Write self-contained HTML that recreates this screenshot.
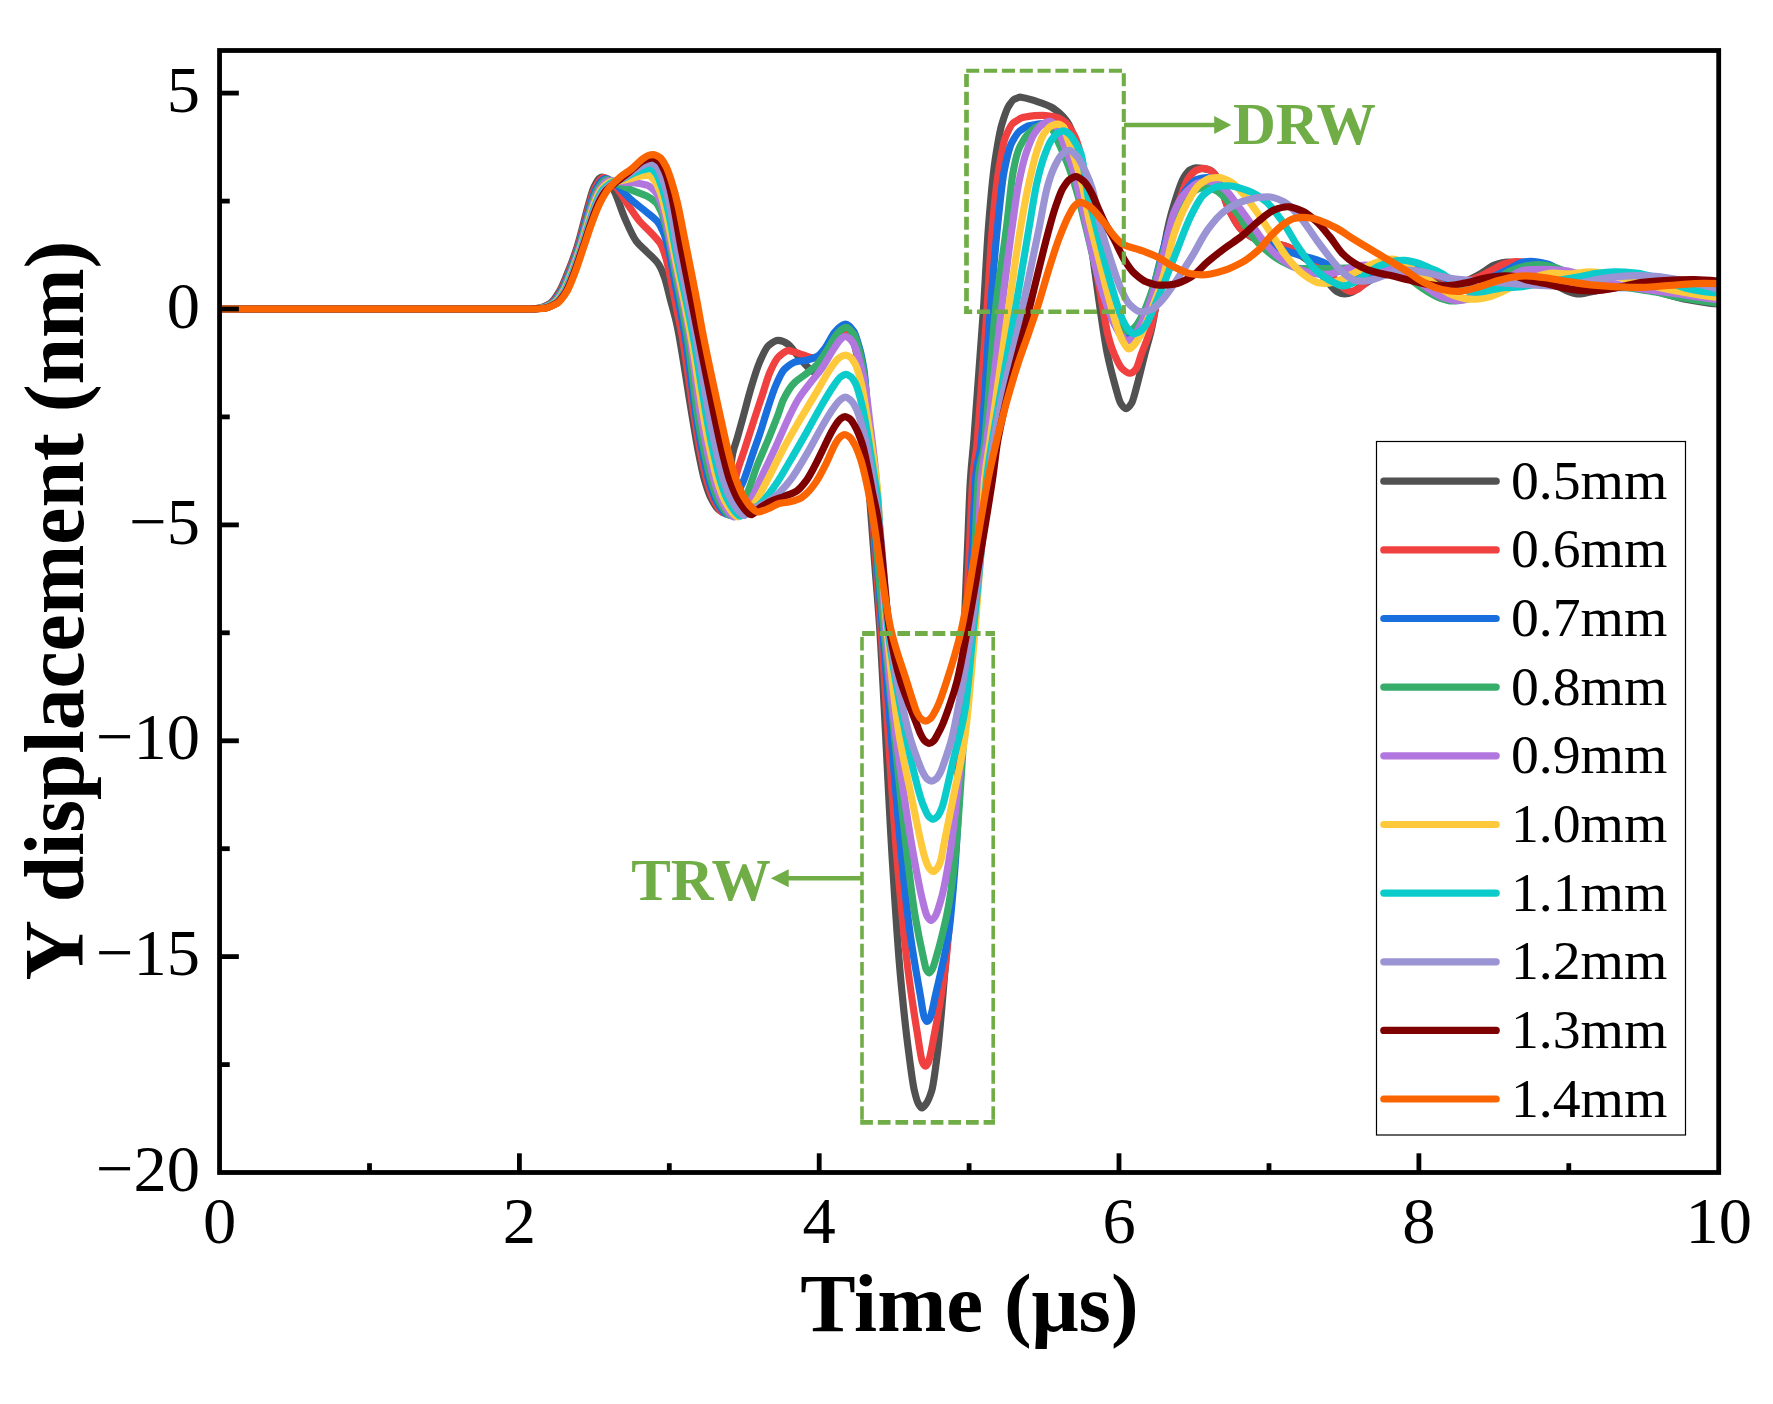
<!DOCTYPE html>
<html lang="en"><head><meta charset="utf-8"><title>Y displacement vs Time</title>
<style>
html,body{margin:0;padding:0;background:#fff;}
body{width:1773px;height:1404px;overflow:hidden;}
svg{display:block;}
text{font-family:"Liberation Serif","Times New Roman",serif;fill:#000;}
.tk{font-size:66.5px;}
.ttl{font-size:83px;font-weight:bold;}
.ttly{font-size:83.6px;font-weight:bold;}
.lg{font-size:55.7px;}
.an{font-size:59.3px;font-weight:bold;fill:#70AD47;}
.cv{fill:none;stroke-width:7.2;stroke-linejoin:round;stroke-linecap:butt;}
</style></head><body>
<svg width="1773" height="1404" viewBox="0 0 1773 1404">
<rect width="1773" height="1404" fill="#fff"/>
<defs><clipPath id="pc"><rect x="219.55" y="50.5" width="1499.15" height="1122.0"/></clipPath></defs>

<g clip-path="url(#pc)">
<path class="cv" stroke="#515151" d="M220.3,309.0C280.2,309.0 340.1,309.0 400.0,309.0C433.3,309.0 466.7,309.0 500.0,309.0C508.3,309.0 516.7,309.0 525.0,309.0C529.3,309.0 533.7,308.6 538.0,308.3C542.0,308.0 546.0,305.7 550.0,303.5C553.1,301.8 556.3,296.6 559.4,291.4C562.3,286.7 565.1,279.0 568.0,272.0C571.0,264.7 574.0,256.9 577.0,247.4C580.9,235.0 584.9,216.9 588.8,203.4C590.5,197.4 592.3,190.5 594.0,187.0C596.4,182.2 598.8,177.5 601.2,177.2C603.5,176.9 605.7,178.7 608.0,181.0C610.2,183.2 612.3,187.2 614.5,191.6C617.9,198.5 621.3,210.3 624.7,218.0C628.6,226.9 632.6,236.5 636.5,241.5C639.9,245.8 643.3,248.4 646.7,251.8C650.1,255.2 653.6,258.0 657.0,262.0C659.4,264.9 661.9,270.1 664.3,276.7C666.3,282.0 668.2,291.3 670.2,298.7C672.1,306.0 674.1,312.7 676.0,320.8C677.0,325.0 678.0,330.0 679.0,335.4C683.6,360.5 688.2,392.7 692.8,420.0C694.5,430.0 696.2,440.3 697.8,449.0C699.9,459.7 702.0,470.7 704.0,478.1C706.1,485.4 708.1,491.9 710.1,496.2C712.2,500.5 714.3,504.3 716.3,507.0C717.9,509.1 719.4,510.6 721.0,511.0C723.0,511.6 725.0,504.7 727.0,497.0C728.9,489.6 730.9,461.6 732.8,453.0C734.3,446.4 735.7,443.5 737.2,438.3C738.9,432.3 740.6,426.2 742.3,420.0C745.2,409.5 748.1,397.7 751.0,388.0C753.9,378.2 756.9,368.3 759.8,361.6C762.7,354.9 765.7,347.9 768.6,345.5C771.8,342.9 774.9,340.3 778.1,340.4C781.3,340.5 784.5,341.6 787.7,344.0C791.1,346.5 794.5,351.9 797.9,355.8C800.8,359.2 803.8,363.1 806.7,366.0C809.6,368.9 812.6,372.4 815.5,372.6C817.7,372.7 819.8,369.0 822.0,366.0C824.7,362.3 827.3,356.3 830.0,352.0C832.7,347.7 835.3,343.2 838.0,340.0C840.3,337.2 842.7,334.6 845.0,333.5C847.5,332.3 850.0,336.8 852.5,340.0C854.5,342.5 856.5,352.6 858.5,362.0C860.0,369.0 861.5,383.3 863.0,400.0C864.8,419.6 866.5,455.4 868.3,480.0C870.6,512.0 872.9,540.2 875.2,570.0C876.7,589.0 878.1,604.6 879.6,626.6C883.8,690.2 888.1,792.0 892.3,860.0C895.0,903.4 897.7,945.8 900.4,975.4C903.2,1005.7 905.9,1031.3 908.7,1052.3C910.6,1066.7 912.5,1082.7 914.4,1090.8C915.7,1096.4 917.0,1101.4 918.3,1103.5C919.6,1105.5 920.8,1108.1 922.1,1107.9C923.5,1107.7 924.9,1105.3 926.3,1103.5C928.1,1101.1 929.9,1096.6 931.7,1090.8C933.6,1084.6 935.6,1067.9 937.5,1052.3C938.8,1042.1 940.0,1027.7 941.3,1013.8C943.4,991.1 945.4,965.1 947.5,940.0C949.6,914.4 951.7,893.0 953.8,860.0C955.4,835.4 956.9,794.8 958.5,760.0C960.3,719.3 962.2,676.5 964.0,633.0C965.2,605.3 966.3,575.6 967.5,547.7C968.5,524.6 969.4,495.4 970.4,480.0C971.6,461.4 972.7,454.3 973.9,439.3C977.0,399.1 980.2,357.9 983.3,311.6C985.0,286.5 986.7,249.6 988.4,228.0C990.6,199.6 992.9,174.8 995.1,160.2C997.4,145.4 999.6,131.4 1001.9,124.1C1004.2,116.8 1006.4,109.5 1008.7,106.1C1010.6,103.3 1012.4,100.1 1014.3,99.3C1016.5,98.3 1018.8,96.9 1021.0,97.2C1024.4,97.7 1027.8,98.6 1031.2,99.6C1035.0,100.7 1038.7,102.0 1042.5,103.3C1045.5,104.4 1048.5,105.6 1051.5,107.2C1054.5,108.8 1057.5,111.4 1060.5,114.0C1062.8,115.9 1065.0,118.8 1067.3,121.9C1069.9,125.4 1072.4,132.3 1075.0,140.0C1077.3,147.0 1079.7,160.7 1082.0,175.0C1084.0,187.3 1086.0,204.9 1088.0,220.0C1090.1,236.1 1092.3,252.7 1094.4,268.4C1096.4,283.1 1098.4,297.8 1100.4,311.1C1102.7,326.4 1105.0,342.7 1107.3,353.8C1110.1,367.5 1113.0,378.1 1115.8,388.0C1117.4,393.5 1118.9,400.3 1120.5,403.0C1122.4,406.2 1124.2,408.7 1126.1,408.7C1128.0,408.7 1129.8,406.2 1131.7,403.0C1133.2,400.3 1134.8,393.6 1136.3,388.0C1139.2,377.6 1142.0,365.0 1144.9,353.8C1147.2,345.0 1149.4,338.4 1151.7,328.2C1154.6,315.3 1157.4,295.8 1160.3,276.9C1161.9,266.6 1163.4,250.5 1165.0,242.0C1167.9,226.1 1170.9,214.2 1173.8,205.0C1177.2,194.3 1180.6,182.6 1184.0,177.2C1186.0,174.0 1188.0,171.0 1190.0,170.0C1191.9,169.1 1193.9,167.9 1195.8,167.9C1198.4,168.0 1200.9,168.2 1203.5,168.6C1205.3,168.9 1207.2,169.3 1209.0,169.8C1210.8,170.3 1212.7,171.7 1214.5,173.8C1219.6,179.7 1224.6,201.4 1229.7,211.1C1233.6,218.6 1237.6,226.5 1241.5,229.7C1247.7,234.8 1253.8,238.9 1260.0,241.0C1269.6,244.3 1279.3,243.0 1288.9,247.4C1291.2,248.4 1293.4,250.4 1295.7,252.0C1301.1,255.8 1306.6,259.1 1312.0,264.0C1316.7,268.2 1321.3,274.9 1326.0,280.0C1329.7,284.0 1333.3,289.4 1337.0,291.5C1339.6,293.0 1342.1,294.0 1344.7,294.0C1347.1,294.0 1349.6,293.4 1352.0,292.3C1354.7,291.1 1357.3,288.7 1360.0,287.0C1363.3,284.8 1366.7,282.3 1370.0,280.5C1374.0,278.3 1378.0,276.1 1382.0,275.0C1388.0,273.3 1394.0,271.8 1400.0,271.5C1406.7,271.2 1413.3,272.1 1420.0,273.5C1426.7,274.9 1433.3,280.3 1440.0,282.0C1446.7,283.7 1453.3,284.2 1460.0,283.0C1466.3,281.8 1472.6,277.8 1478.9,274.6C1484.3,271.8 1489.6,267.0 1495.0,265.0C1499.3,263.3 1503.7,262.0 1508.0,262.0C1513.7,262.0 1519.3,263.8 1525.0,266.0C1531.7,268.6 1538.3,274.0 1545.0,278.0C1551.7,282.0 1558.3,287.3 1565.0,290.0C1570.1,292.1 1575.3,294.4 1580.4,293.9C1586.9,293.3 1593.5,291.0 1600.0,290.0C1608.3,288.8 1616.7,287.2 1625.0,287.0C1633.3,286.8 1641.7,288.5 1650.0,290.0C1661.3,292.1 1672.7,296.8 1684.0,299.0C1695.3,301.2 1706.5,303.2 1717.8,304.0"/>
<path class="cv" stroke="#F14040" d="M220.3,309.0C280.2,309.0 340.1,309.0 400.0,309.0C433.3,309.0 466.7,309.0 500.0,309.0C508.6,309.0 517.1,309.0 525.7,309.0C530.1,309.0 534.4,308.6 538.7,308.3C542.7,308.0 546.8,305.7 550.8,303.5C553.9,301.8 557.1,296.6 560.2,291.4C563.1,286.7 565.9,279.0 568.8,272.0C571.8,264.7 574.8,256.7 577.7,247.4C581.8,234.8 585.8,216.4 589.8,203.4C591.7,197.2 593.6,190.3 595.5,187.0C598.1,182.4 600.8,177.8 603.4,177.7C605.6,177.6 607.8,178.8 610.0,180.5C612.5,182.4 614.9,185.5 617.4,188.7C621.3,193.7 625.1,200.6 629.0,206.3C632.5,211.4 635.9,216.9 639.4,221.0C643.3,225.6 647.1,228.6 651.0,232.7C654.0,235.9 657.0,238.8 660.0,243.0C661.9,245.7 663.9,251.4 665.8,257.7C667.8,264.1 669.7,274.6 671.7,284.0C673.6,293.2 675.6,303.7 677.5,313.4C679.0,320.9 680.5,327.0 682.0,335.4C686.2,359.2 690.5,394.2 694.7,420.0C696.4,430.7 698.2,440.8 699.9,449.6C702.1,460.5 704.2,471.8 706.4,479.3C708.5,486.8 710.6,493.5 712.7,497.8C714.9,502.3 717.0,506.2 719.2,509.0C720.8,511.1 722.4,513.3 724.0,513.0C726.0,512.6 728.0,505.0 730.0,499.0C732.7,490.9 735.3,477.8 738.0,469.0C740.2,461.7 742.4,456.0 744.6,449.3C746.4,443.8 748.2,438.1 750.0,432.5C752.0,426.3 754.0,420.1 756.0,414.0C758.0,407.9 760.0,402.0 762.0,396.0C764.7,388.0 767.3,378.1 770.0,372.0C773.0,365.2 775.9,359.0 778.9,356.5C782.3,353.7 785.7,350.0 789.1,350.6C792.5,351.2 796.0,352.5 799.4,353.6C802.8,354.7 806.3,356.2 809.7,357.2C813.1,358.2 816.6,358.3 820.0,357.0C823.3,355.8 826.7,349.1 830.0,345.0C832.7,341.7 835.3,337.6 838.0,335.0C840.3,332.8 842.7,331.5 845.0,331.0C847.5,330.4 850.0,334.6 852.5,338.0C854.6,340.8 856.7,351.6 858.8,362.0C860.4,369.8 861.9,384.6 863.5,400.0C865.7,421.3 867.8,451.6 870.0,480.0C872.2,508.4 874.3,540.6 876.5,570.0C878.0,590.4 879.5,609.3 881.0,630.0C886.4,703.9 891.7,796.4 897.1,860.0C901.0,905.8 904.8,945.7 908.7,975.4C911.6,997.4 914.4,1015.5 917.3,1033.0C919.0,1043.4 920.7,1057.6 922.4,1062.0C923.4,1064.6 924.4,1066.3 925.4,1066.2C926.4,1066.1 927.4,1064.4 928.4,1062.0C930.5,1057.1 932.5,1043.5 934.6,1033.0C937.8,1016.7 941.0,998.5 944.2,975.4C947.6,951.1 950.9,908.7 954.3,860.0C956.0,834.9 957.8,795.1 959.5,760.0C961.5,719.5 963.5,675.5 965.5,633.0C966.8,604.7 968.2,576.0 969.5,547.7C970.6,525.0 971.6,494.9 972.7,480.0C974.3,458.0 975.8,457.7 977.4,439.3C980.5,402.4 983.7,356.5 986.8,311.6C988.6,285.3 990.5,249.3 992.3,228.0C994.4,204.0 996.4,184.0 998.5,171.5C1000.8,157.8 1003.0,143.2 1005.3,137.7C1007.9,131.3 1010.6,124.8 1013.2,123.0C1016.6,120.7 1019.9,118.0 1023.3,117.4C1027.1,116.7 1030.8,115.9 1034.6,115.7C1038.4,115.5 1042.1,115.4 1045.9,115.5C1049.7,115.6 1053.4,116.6 1057.2,117.4C1060.2,118.1 1063.2,120.5 1066.2,123.0C1068.5,124.9 1070.7,129.4 1073.0,133.2C1074.9,136.3 1076.7,140.5 1078.6,146.7C1080.4,152.6 1082.2,167.1 1084.0,180.0C1085.5,190.7 1087.0,205.7 1088.5,217.0C1090.7,233.3 1092.8,248.4 1095.0,262.0C1097.2,275.6 1099.3,287.9 1101.5,300.0C1103.7,312.1 1105.8,326.4 1108.0,335.0C1110.0,343.0 1112.1,349.3 1114.1,353.8C1116.7,359.6 1119.4,366.0 1122.0,368.5C1124.5,370.9 1127.0,372.9 1129.5,373.2C1131.7,373.5 1133.8,371.8 1136.0,369.0C1137.8,366.6 1139.7,358.8 1141.5,353.8C1144.6,345.2 1147.8,338.9 1150.9,328.2C1153.3,320.1 1155.6,306.4 1158.0,295.0C1160.5,283.1 1162.9,269.8 1165.4,258.4C1169.3,240.2 1173.3,220.4 1177.2,207.7C1181.2,194.8 1185.1,182.1 1189.1,177.2C1191.7,174.0 1194.4,170.9 1197.0,170.0C1199.2,169.2 1201.3,168.2 1203.5,168.3C1205.3,168.4 1207.2,169.2 1209.0,169.8C1210.8,170.4 1212.7,171.7 1214.5,173.8C1219.6,179.7 1224.6,201.4 1229.7,211.1C1233.6,218.6 1237.6,226.5 1241.5,229.7C1247.7,234.8 1253.8,238.9 1260.0,241.0C1269.6,244.2 1279.3,243.1 1288.9,247.4C1291.2,248.4 1293.4,250.4 1295.7,251.7C1302.1,255.5 1308.6,257.7 1315.0,262.0C1321.0,266.0 1327.0,272.0 1333.0,277.5C1336.3,280.6 1339.7,285.1 1343.0,287.5C1345.7,289.4 1348.4,291.2 1351.1,291.3C1353.4,291.4 1355.7,290.3 1358.0,289.0C1361.0,287.3 1364.0,283.5 1367.0,281.5C1371.0,278.9 1375.0,276.4 1379.0,275.0C1383.3,273.5 1387.7,271.9 1392.0,271.5C1401.3,270.5 1410.7,270.2 1420.0,271.5C1430.0,272.9 1440.0,278.3 1450.0,280.0C1456.7,281.2 1463.3,281.3 1470.0,280.0C1477.1,278.6 1484.2,273.9 1491.3,270.5C1495.4,268.5 1499.6,265.3 1503.7,264.0C1507.8,262.7 1512.0,261.6 1516.1,261.6C1520.7,261.5 1525.4,262.5 1530.0,264.0C1536.7,266.1 1543.3,271.2 1550.0,274.5C1558.3,278.6 1566.7,284.4 1575.0,286.0C1583.3,287.6 1591.7,288.6 1600.0,288.5C1610.0,288.3 1620.0,286.9 1630.0,287.0C1640.0,287.1 1650.0,288.5 1660.0,290.0C1670.0,291.5 1680.0,294.9 1690.0,297.0C1699.3,299.0 1708.5,300.9 1717.8,302.5"/>
<path class="cv" stroke="#1A6FDF" d="M220.3,309.0C280.2,309.0 340.1,309.0 400.0,309.0C433.3,309.0 466.7,309.0 500.0,309.0C508.8,309.0 517.6,309.0 526.4,309.0C530.8,309.0 535.1,308.6 539.4,308.3C543.5,308.0 547.5,305.7 551.6,303.5C554.7,301.8 557.9,296.6 561.1,291.4C563.9,286.8 566.8,279.0 569.6,272.0C572.6,264.7 575.5,256.6 578.5,247.4C582.6,234.6 586.7,215.8 590.8,203.4C592.9,197.2 594.9,190.8 597.0,187.5C599.7,183.3 602.3,178.6 605.0,178.5C607.0,178.4 609.0,179.2 611.0,180.5C613.1,181.9 615.3,184.0 617.4,186.0C622.3,190.5 627.1,196.1 632.0,200.4C636.9,204.7 641.8,208.2 646.7,212.2C650.1,215.0 653.6,217.5 657.0,221.0C659.0,223.0 660.9,227.0 662.9,231.2C664.8,235.3 666.8,242.3 668.7,250.3C671.1,260.4 673.6,275.7 676.0,288.5C679.0,304.1 681.9,317.4 684.9,335.4C688.8,358.8 692.6,395.9 696.5,420.0C698.3,431.4 700.1,441.1 702.0,449.9C704.2,460.8 706.4,472.3 708.7,480.0C710.9,487.5 713.1,494.3 715.3,498.7C717.5,503.1 719.7,507.1 722.0,509.9C723.6,512.0 725.3,515.0 727.0,514.0C729.0,512.8 731.0,505.0 733.0,501.0C736.3,494.4 739.5,490.1 742.8,482.5C746.3,474.3 749.9,462.2 753.4,452.0C755.8,445.0 758.3,438.4 760.7,431.0C762.7,425.0 764.6,418.0 766.6,412.0C769.7,402.5 772.8,392.1 775.9,385.1C778.8,378.4 781.8,371.6 784.7,369.0C788.6,365.6 792.6,362.5 796.5,361.6C799.9,360.9 803.3,361.0 806.7,360.2C810.1,359.4 813.6,358.2 817.0,356.5C819.9,355.0 822.9,350.9 825.8,347.0C828.7,343.1 831.7,335.7 834.6,332.3C838.0,328.3 841.5,325.1 844.9,324.3C847.8,323.6 850.8,327.6 853.7,331.3C855.5,333.6 857.4,341.1 859.2,347.0C860.8,352.0 862.3,359.4 863.9,369.0C865.3,377.4 866.6,398.7 868.0,420.0C869.0,435.6 870.0,463.8 871.0,480.0C873.2,515.1 875.3,542.6 877.5,570.0C879.2,591.1 880.8,610.1 882.5,630.0C889.0,707.1 895.4,793.9 901.9,860.0C904.8,889.7 907.7,916.9 910.6,936.9C913.8,959.0 917.0,976.2 920.2,994.6C921.6,1002.4 922.9,1013.8 924.3,1017.3C925.3,1019.9 926.3,1021.5 927.3,1021.3C928.3,1021.1 929.3,1019.7 930.3,1017.3C932.1,1013.1 933.8,1002.3 935.6,994.6C939.8,976.3 943.9,960.4 948.1,936.9C950.6,923.0 953.0,893.3 955.5,860.0C957.3,835.3 959.2,794.6 961.0,760.0C963.2,719.1 965.3,673.2 967.5,633.0C969.1,602.7 970.8,579.1 972.4,547.7C973.4,527.8 974.5,493.8 975.5,480.0C977.5,452.8 979.6,463.5 981.6,439.3C984.5,405.1 987.3,348.7 990.2,311.6C992.6,280.5 995.0,251.3 997.4,228.0C999.6,206.4 1001.9,182.6 1004.1,171.5C1006.7,158.4 1009.4,146.9 1012.0,142.2C1014.6,137.5 1017.3,132.7 1019.9,130.9C1022.9,128.8 1026.0,126.5 1029.0,125.8C1032.0,125.1 1035.0,124.6 1038.0,124.1C1041.0,123.6 1044.0,123.2 1047.0,123.0C1050.0,122.8 1053.0,124.5 1056.0,126.0C1058.3,127.2 1060.7,131.4 1063.0,135.0C1065.3,138.6 1067.7,143.9 1070.0,150.0C1072.7,157.0 1075.3,167.7 1078.0,178.0C1081.0,189.6 1084.0,203.1 1087.0,217.0C1090.0,230.9 1093.0,248.4 1096.0,262.0C1098.7,274.1 1101.3,285.9 1104.0,295.0C1106.8,304.7 1109.7,314.3 1112.5,320.0C1115.0,325.0 1117.5,329.7 1120.0,332.0C1122.3,334.2 1124.7,336.6 1127.0,336.8C1129.5,337.0 1132.0,334.6 1134.5,332.0C1137.0,329.4 1139.5,323.3 1142.0,318.0C1145.3,310.9 1148.7,302.4 1152.0,292.0C1155.7,280.6 1159.3,262.7 1163.0,250.0C1166.7,237.3 1170.3,224.2 1174.0,215.0C1178.0,205.0 1182.0,195.0 1186.0,190.0C1189.7,185.4 1193.3,180.8 1197.0,179.5C1200.6,178.3 1204.1,177.3 1207.7,177.6C1211.1,177.8 1214.6,179.4 1218.0,182.0C1222.7,185.5 1227.3,195.2 1232.0,202.0C1237.0,209.2 1242.0,217.7 1247.0,224.0C1252.0,230.3 1257.0,236.8 1262.0,240.0C1268.0,243.9 1274.0,246.9 1280.0,249.0C1286.3,251.2 1292.7,253.1 1299.0,255.0C1305.2,256.8 1311.5,257.9 1317.7,260.1C1323.5,262.1 1329.2,265.3 1335.0,268.0C1340.7,270.6 1346.3,274.3 1352.0,276.0C1357.3,277.6 1362.7,279.1 1368.0,278.5C1373.7,277.8 1379.3,275.9 1385.0,274.5C1391.7,272.9 1398.3,270.6 1405.0,269.5C1411.7,268.4 1418.3,268.7 1425.0,270.0C1431.7,271.3 1438.3,275.7 1445.0,278.0C1451.7,280.3 1458.3,283.4 1465.0,284.0C1471.7,284.6 1478.3,282.2 1485.0,280.0C1493.3,277.2 1501.6,272.4 1509.9,268.4C1514.0,266.4 1518.2,263.1 1522.3,262.2C1526.4,261.3 1530.6,261.3 1534.7,261.6C1538.8,261.9 1543.0,262.7 1547.1,264.0C1553.1,265.8 1559.0,270.1 1565.0,273.0C1573.3,277.0 1581.7,282.8 1590.0,284.5C1598.3,286.2 1606.7,287.1 1615.0,287.5C1625.0,288.0 1635.0,287.2 1645.0,288.0C1655.0,288.8 1665.0,291.2 1675.0,293.0C1689.3,295.6 1703.5,298.5 1717.8,301.5"/>
<path class="cv" stroke="#37AD6B" d="M220.3,309.0C280.2,309.0 340.1,309.0 400.0,309.0C433.3,309.0 466.7,309.0 500.0,309.0C509.1,309.0 518.1,309.0 527.2,309.0C531.5,309.0 535.8,308.6 540.2,308.3C544.2,308.0 548.3,305.7 552.3,303.5C555.5,301.8 558.7,296.6 561.9,291.4C564.8,286.8 567.6,279.1 570.4,272.0C573.3,264.6 576.3,256.4 579.2,247.4C583.5,234.3 587.7,215.6 592.0,203.4C594.2,197.2 596.3,191.0 598.5,188.0C601.3,184.0 604.2,179.1 607.0,179.5C609.0,179.8 611.0,180.6 613.0,181.5C615.4,182.6 617.9,183.9 620.3,185.0C624.2,186.8 628.1,188.5 632.0,190.2C636.9,192.3 641.8,193.8 646.7,196.0C649.6,197.3 652.6,199.4 655.5,201.9C657.5,203.6 659.4,207.8 661.4,212.2C663.4,216.6 665.3,224.5 667.3,232.7C670.2,244.8 673.1,261.7 676.0,276.7C679.7,295.7 683.3,312.8 687.0,335.4C690.8,358.7 694.5,396.8 698.3,420.0C700.2,431.8 702.2,441.4 704.1,450.4C706.4,461.4 708.8,473.1 711.2,480.9C713.5,488.5 715.8,495.4 718.2,499.8C720.5,504.4 722.9,508.4 725.3,511.3C727.0,513.4 728.8,516.2 730.6,515.4C732.7,514.5 734.9,506.0 737.0,503.0C740.0,498.8 743.0,500.7 746.0,495.6C749.7,489.4 753.3,475.2 757.0,466.0C760.7,456.8 764.3,449.0 768.0,440.0C771.4,431.6 774.9,423.1 778.3,414.0C780.0,409.6 781.6,403.2 783.3,399.8C787.2,391.9 791.1,385.7 795.0,382.2C798.9,378.7 802.8,376.5 806.7,373.4C810.1,370.6 813.6,368.2 817.0,364.6C820.4,361.0 823.9,355.2 827.3,349.9C830.2,345.4 833.2,338.9 836.1,335.2C839.0,331.5 842.0,328.6 844.9,327.6C847.8,326.6 850.8,330.5 853.7,334.0C855.7,336.4 857.6,345.0 859.6,352.0C861.2,357.8 862.9,366.8 864.5,378.0C866.0,388.3 867.5,409.2 869.0,430.0C870.0,443.8 871.0,464.9 872.0,480.0C874.2,512.7 876.3,543.9 878.5,570.0C880.3,592.1 882.2,611.3 884.0,630.0C891.9,710.6 899.8,793.3 907.7,860.0C910.3,881.7 912.8,902.7 915.4,917.7C918.0,932.7 920.5,944.6 923.1,956.2C924.1,960.9 925.2,967.1 926.2,969.3C927.2,971.4 928.2,973.1 929.2,972.9C930.2,972.7 931.2,971.1 932.2,969.3C933.6,966.7 935.1,961.0 936.5,956.2C939.7,945.4 943.0,932.2 946.2,917.7C949.1,904.8 951.9,886.5 954.8,860.0C959.9,813.2 964.9,713.6 970.0,633.0C971.7,606.5 973.3,578.4 975.0,547.7C976.1,527.4 977.2,493.2 978.3,480.0C980.5,453.2 982.8,462.1 985.0,439.3C988.4,404.3 991.9,343.4 995.3,311.6C999.0,277.3 1002.7,257.5 1006.4,228.0C1008.7,209.9 1010.9,183.6 1013.2,171.5C1015.4,159.6 1017.7,150.9 1019.9,146.7C1022.5,141.7 1025.2,136.9 1027.8,134.3C1030.4,131.7 1033.1,128.9 1035.7,127.5C1038.1,126.2 1040.6,125.1 1043.0,124.5C1045.3,123.9 1047.7,124.6 1050.0,126.0C1052.8,127.7 1055.5,136.3 1058.3,142.2C1061.7,149.4 1065.0,157.1 1068.4,165.9C1071.4,173.8 1074.5,183.5 1077.5,194.1C1080.3,204.0 1083.2,216.5 1086.0,228.0C1089.0,240.1 1092.0,253.9 1095.0,265.0C1098.0,276.1 1101.0,286.4 1104.0,295.0C1107.0,303.6 1110.0,312.9 1113.0,318.0C1115.7,322.6 1118.3,326.7 1121.0,328.5C1123.3,330.1 1125.5,331.7 1127.8,331.6C1130.2,331.5 1132.6,329.2 1135.0,327.0C1137.7,324.6 1140.3,319.3 1143.0,314.0C1146.3,307.4 1149.7,297.9 1153.0,288.0C1156.7,277.1 1160.3,261.1 1164.0,250.0C1168.0,237.9 1172.0,226.3 1176.0,218.0C1180.0,209.7 1184.0,201.1 1188.0,197.0C1191.7,193.2 1195.3,189.5 1199.0,188.5C1201.9,187.7 1204.8,187.0 1207.7,187.4C1210.5,187.8 1213.2,189.1 1216.0,190.5C1218.9,191.9 1221.7,194.7 1224.6,197.5C1229.1,201.9 1233.6,208.3 1238.1,214.5C1242.6,220.8 1247.2,229.8 1251.7,235.5C1256.2,241.1 1260.7,245.8 1265.2,249.5C1270.3,253.7 1275.3,257.9 1280.4,260.5C1287.2,263.9 1293.9,268.5 1300.7,268.6C1308.0,268.7 1315.4,268.8 1322.7,268.6C1330.1,268.4 1337.6,268.1 1345.0,268.0C1351.7,267.9 1358.3,268.0 1365.0,268.0C1371.8,268.0 1378.6,268.3 1385.4,268.6C1391.9,268.9 1398.5,272.7 1405.0,276.0C1411.4,279.3 1417.9,285.6 1424.3,289.5C1429.5,292.7 1434.8,296.1 1440.0,298.0C1444.0,299.4 1448.0,300.8 1452.0,301.0C1457.3,301.2 1462.7,299.8 1468.0,298.0C1475.3,295.5 1482.7,289.7 1490.0,285.0C1496.7,280.7 1503.3,273.9 1510.0,271.0C1516.2,268.3 1522.3,266.3 1528.5,265.5C1532.0,265.1 1535.4,264.6 1538.9,264.7C1543.2,264.8 1547.6,265.7 1551.9,266.7C1559.6,268.5 1567.3,272.4 1575.0,275.0C1583.3,277.8 1591.7,281.2 1600.0,283.0C1610.0,285.1 1620.0,286.4 1630.0,288.0C1638.5,289.4 1647.1,290.4 1655.6,292.0C1664.3,293.6 1672.9,296.2 1681.6,297.8C1693.7,300.0 1705.7,302.0 1717.8,303.2"/>
<path class="cv" stroke="#B177DE" d="M220.3,309.0C280.2,309.0 340.1,309.0 400.0,309.0C433.3,309.0 466.7,309.0 500.0,309.0C509.3,309.0 518.6,309.0 527.9,309.0C532.2,309.0 536.6,308.6 540.9,308.3C545.0,308.0 549.0,305.7 553.1,303.5C556.3,301.8 559.6,296.6 562.8,291.4C565.6,286.8 568.4,279.1 571.2,272.0C574.1,264.6 577.0,256.2 579.9,247.4C584.4,234.0 588.8,215.3 593.2,203.4C595.5,197.3 597.7,191.3 600.0,188.5C603.0,184.8 606.0,180.3 609.0,180.5C611.3,180.6 613.7,180.9 616.0,181.2C618.4,181.5 620.9,181.9 623.3,182.1C627.2,182.5 631.1,182.5 635.0,182.8C638.9,183.1 642.8,184.1 646.7,185.0C649.1,185.6 651.6,188.0 654.0,190.2C656.0,192.0 658.0,195.9 660.0,200.4C661.9,204.7 663.9,213.1 665.8,221.0C668.2,230.8 670.6,243.2 673.0,254.7C678.4,280.7 683.9,304.1 689.3,335.4C693.3,358.5 697.3,396.1 701.3,420.0C703.3,431.8 705.2,441.7 707.2,450.8C709.6,462.0 712.0,473.9 714.4,481.8C716.8,489.5 719.2,496.5 721.6,501.0C724.0,505.6 726.4,509.8 728.8,512.6C730.7,514.7 732.5,517.5 734.3,516.8C736.5,516.0 738.8,507.5 741.0,505.0C744.1,501.5 747.3,504.9 750.4,500.7C753.8,496.1 757.3,486.0 760.7,478.7C765.6,468.3 770.5,458.2 775.4,447.5C779.8,437.9 784.2,427.2 788.6,418.0C791.7,411.5 794.8,404.7 797.9,399.8C801.8,393.5 805.8,388.7 809.7,383.6C813.6,378.5 817.5,374.5 821.4,369.0C825.3,363.5 829.2,355.9 833.1,349.9C835.4,346.4 837.7,342.4 840.0,340.0C841.6,338.3 843.3,336.7 844.9,336.5C846.4,336.3 848.0,337.5 849.5,338.5C850.9,339.4 852.3,341.5 853.7,343.9C855.8,347.5 857.9,355.5 860.0,362.7C861.8,369.0 863.7,377.0 865.5,387.8C867.1,397.0 868.6,412.6 870.2,425.4C871.8,438.2 873.3,449.4 874.9,464.6C875.6,471.4 876.3,480.9 877.0,490.0C878.2,505.2 879.3,521.6 880.5,540.0C882.2,566.3 883.8,608.9 885.5,630.0C890.0,686.9 894.5,727.3 899.0,760.0C904.1,797.3 909.3,831.7 914.4,860.0C917.0,874.1 919.5,888.0 922.1,898.5C923.8,905.5 925.5,913.6 927.2,916.4C928.5,918.6 929.9,920.5 931.2,920.4C932.5,920.3 933.9,918.4 935.2,916.4C937.2,913.4 939.3,905.6 941.3,898.5C943.9,889.5 946.4,875.5 949.0,860.0C953.0,835.8 957.0,798.4 961.0,760.0C964.7,724.8 968.3,678.7 972.0,633.0C974.0,608.0 976.0,581.1 978.0,547.7C979.1,529.9 980.1,491.8 981.2,480.0C983.1,458.6 985.1,455.6 987.0,439.3C991.8,399.0 996.5,351.3 1001.3,311.6C1004.9,281.9 1008.4,253.6 1012.0,228.0C1014.3,211.7 1016.5,194.1 1018.8,182.8C1021.4,169.7 1024.1,158.4 1026.7,151.2C1029.3,144.0 1032.0,136.9 1034.6,133.2C1037.2,129.5 1039.9,125.7 1042.5,124.1C1044.8,122.7 1047.0,121.5 1049.3,121.3C1051.4,121.1 1053.4,122.8 1055.5,125.0C1057.6,127.2 1059.6,133.8 1061.7,138.8C1065.1,146.9 1068.4,155.4 1071.8,165.9C1075.2,176.5 1078.6,191.2 1082.0,205.4C1083.7,212.4 1085.3,220.3 1087.0,228.0C1088.6,235.6 1090.3,244.1 1091.9,251.3C1094.7,263.7 1097.6,276.1 1100.4,285.5C1104.4,298.8 1108.4,310.9 1112.4,319.7C1114.9,325.3 1117.5,331.0 1120.0,334.0C1122.6,337.1 1125.2,340.7 1127.8,340.7C1129.9,340.7 1131.9,338.3 1134.0,336.0C1135.9,333.9 1137.8,330.1 1139.7,326.5C1143.1,320.0 1146.6,311.8 1150.0,302.6C1153.4,293.4 1156.9,280.9 1160.3,268.4C1164.8,252.0 1169.3,224.0 1173.8,212.8C1177.8,202.9 1181.7,196.3 1185.7,192.5C1189.6,188.7 1193.6,184.4 1197.5,183.1C1202.0,181.7 1206.6,180.8 1211.1,181.5C1215.6,182.2 1220.1,185.4 1224.6,189.1C1229.1,192.8 1233.6,200.1 1238.1,206.0C1242.6,212.0 1247.2,218.4 1251.7,224.6C1256.2,230.8 1260.7,237.9 1265.2,243.2C1270.3,249.2 1275.3,254.7 1280.4,258.4C1286.1,262.5 1291.7,266.4 1297.4,268.6C1303.0,270.8 1308.7,273.1 1314.3,273.7C1319.9,274.3 1325.6,274.7 1331.2,273.7C1336.8,272.7 1342.5,270.0 1348.1,268.6C1353.7,267.2 1359.4,265.4 1365.0,265.2C1371.8,265.0 1378.6,267.1 1385.4,268.6C1393.8,270.5 1402.3,273.2 1410.7,277.1C1416.9,280.0 1423.1,285.6 1429.3,289.5C1433.4,292.1 1437.6,295.4 1441.7,296.9C1446.7,298.7 1451.6,300.3 1456.6,300.4C1461.7,300.5 1466.9,299.5 1472.0,298.0C1478.0,296.3 1484.0,292.4 1490.0,289.0C1496.7,285.3 1503.3,279.9 1510.0,276.5C1515.3,273.8 1520.7,270.3 1526.0,269.9C1532.5,269.4 1538.9,269.1 1545.4,269.3C1551.9,269.5 1558.4,269.8 1564.9,270.6C1573.3,271.6 1581.6,274.8 1590.0,277.0C1600.0,279.6 1610.0,282.8 1620.0,285.0C1628.3,286.8 1636.7,288.3 1645.0,289.5C1652.9,290.7 1660.7,291.5 1668.6,292.6C1685.0,294.9 1701.4,297.4 1717.8,300.0"/>
<path class="cv" stroke="#FEC93B" d="M220.3,309.0C280.2,309.0 340.1,309.0 400.0,309.0C433.3,309.0 466.7,309.0 500.0,309.0C509.5,309.0 519.1,309.0 528.6,309.0C532.9,309.0 537.3,308.6 541.6,308.3C545.7,308.0 549.8,305.7 553.9,303.5C557.1,301.8 560.4,296.7 563.6,291.4C566.4,286.9 569.2,279.1 572.0,272.0C574.9,264.6 577.8,256.0 580.7,247.4C585.3,233.6 589.9,215.2 594.5,203.4C596.8,197.4 599.2,191.5 601.5,189.0C604.7,185.6 607.8,181.9 611.0,181.5C613.7,181.2 616.3,181.5 619.0,181.0C621.9,180.5 624.8,179.9 627.7,179.2C631.6,178.3 635.5,177.1 639.4,176.2C642.3,175.5 645.3,175.4 648.2,175.5C650.1,175.5 652.1,177.9 654.0,179.9C656.0,181.9 658.0,186.7 660.0,191.6C661.9,196.3 663.9,204.1 665.8,212.2C668.7,224.3 671.6,240.4 674.5,254.7C679.9,281.4 685.4,305.4 690.8,335.4C695.3,360.1 699.7,394.8 704.2,420.0C706.2,431.4 708.2,441.6 710.2,450.8C712.7,462.1 715.2,473.9 717.7,481.8C720.1,489.5 722.6,496.5 725.0,501.0C727.5,505.6 729.9,509.8 732.4,512.6C734.3,514.7 736.1,517.4 738.0,516.8C740.3,516.0 742.7,508.0 745.0,506.0C747.8,503.6 750.6,507.2 753.4,504.4C758.3,499.5 763.1,487.8 768.0,478.7C772.9,469.6 777.8,459.1 782.7,450.0C787.6,440.9 792.5,432.4 797.4,424.0C803.4,413.7 809.5,404.0 815.5,393.9C820.4,385.7 825.3,376.2 830.2,369.0C833.1,364.7 836.1,360.0 839.0,358.0C841.1,356.5 843.2,355.3 845.3,355.2C846.9,355.1 848.4,356.1 850.0,357.0C851.5,357.8 853.0,360.3 854.5,362.7C856.6,366.1 858.7,373.3 860.8,381.5C862.9,389.6 864.9,403.7 867.0,416.0C869.1,428.5 871.2,442.4 873.3,456.7C874.7,466.3 876.1,474.9 877.5,490.0C878.5,500.8 879.5,524.9 880.5,540.0C882.7,572.7 884.8,607.5 887.0,630.0C891.3,675.1 895.7,715.0 900.0,740.0C903.6,760.8 907.2,776.0 910.8,793.4C914.5,811.4 918.3,831.1 922.0,846.8C923.1,851.3 924.1,855.6 925.2,858.7C926.5,862.6 927.9,866.7 929.2,868.3C930.5,869.9 931.9,871.5 933.2,871.5C934.5,871.5 935.9,869.8 937.2,868.3C938.5,866.8 939.9,863.4 941.2,858.7C941.9,856.1 942.7,850.6 943.4,846.8C947.0,828.4 950.5,811.4 954.1,793.4C957.6,775.9 961.0,762.5 964.5,740.0C968.0,717.3 971.5,670.9 975.0,630.0C977.0,606.6 979.0,579.4 981.0,547.7C982.2,529.2 983.3,491.8 984.5,480.0C986.4,460.8 988.3,452.9 990.2,439.3C996.2,396.7 1002.1,353.0 1008.1,311.6C1012.2,282.9 1016.4,252.6 1020.5,228.0C1023.3,211.1 1026.2,195.6 1029.0,182.8C1031.6,170.9 1034.3,159.2 1036.9,151.2C1039.1,144.4 1041.4,137.7 1043.6,134.3C1045.9,130.9 1048.1,127.6 1050.4,126.4C1052.7,125.2 1054.9,124.3 1057.2,124.1C1059.4,123.9 1061.7,125.1 1063.9,127.5C1065.0,128.7 1066.2,134.4 1067.3,137.7C1069.9,145.4 1072.6,152.1 1075.2,160.2C1077.8,168.3 1080.5,177.2 1083.1,188.4C1084.9,196.1 1086.7,208.9 1088.5,217.1C1091.3,229.9 1094.2,240.0 1097.0,251.3C1100.4,265.0 1103.9,279.4 1107.3,292.3C1110.7,305.1 1114.1,318.4 1117.5,328.2C1119.3,333.5 1121.2,338.3 1123.0,341.5C1124.9,344.7 1126.7,348.8 1128.6,348.9C1130.4,349.0 1132.2,346.9 1134.0,345.0C1135.9,343.0 1137.8,340.1 1139.7,336.8C1143.7,329.8 1147.7,319.4 1151.7,309.4C1155.7,299.4 1159.7,288.4 1163.7,275.2C1167.1,264.1 1170.4,244.9 1173.8,234.8C1178.3,221.3 1182.9,210.6 1187.4,202.6C1191.3,195.7 1195.3,187.9 1199.2,184.8C1203.2,181.7 1207.1,178.8 1211.1,178.1C1213.9,177.6 1216.7,177.3 1219.5,177.6C1223.5,178.1 1227.4,180.0 1231.4,182.3C1235.9,184.9 1240.4,190.5 1244.9,195.8C1249.4,201.1 1254.0,208.0 1258.5,214.5C1263.0,221.0 1267.5,228.0 1272.0,234.8C1276.5,241.6 1281.0,249.3 1285.5,255.1C1291.1,262.4 1296.8,269.6 1302.4,273.7C1308.1,277.8 1313.7,282.2 1319.4,283.0C1324.5,283.7 1329.5,283.6 1334.6,282.1C1340.1,280.4 1345.6,277.3 1351.1,274.6C1354.4,273.0 1357.7,271.2 1361.0,269.6C1365.1,267.5 1369.3,265.1 1373.4,263.5C1377.5,261.9 1381.7,260.6 1385.8,259.8C1388.7,259.2 1391.6,258.8 1394.5,259.2C1399.5,259.9 1404.4,264.1 1409.4,267.0C1415.2,270.4 1421.0,274.3 1426.8,278.3C1431.8,281.7 1436.7,285.9 1441.7,289.0C1445.8,291.6 1450.0,294.3 1454.1,295.7C1458.2,297.1 1462.4,298.5 1466.5,298.8C1470.6,299.1 1474.8,299.1 1478.9,298.8C1483.0,298.5 1487.2,297.5 1491.3,296.3C1497.5,294.4 1503.8,290.8 1510.0,288.0C1516.7,285.0 1523.3,281.4 1530.0,279.0C1537.3,276.4 1544.6,273.5 1551.9,273.2C1558.4,273.0 1564.8,274.1 1571.3,273.8C1577.8,273.5 1584.3,271.9 1590.8,271.9C1598.9,271.8 1606.9,274.2 1615.0,276.0C1625.0,278.2 1635.0,281.6 1645.0,284.0C1655.0,286.4 1665.1,288.9 1675.1,290.7C1689.3,293.3 1703.6,295.8 1717.8,297.4"/>
<path class="cv" stroke="#0CCBCB" d="M220.3,309.0C280.2,309.0 340.1,309.0 400.0,309.0C433.3,309.0 466.7,309.0 500.0,309.0C509.8,309.0 519.6,309.0 529.3,309.0C533.7,309.0 538.0,308.6 542.3,308.3C546.4,308.0 550.6,305.7 554.7,303.5C557.9,301.8 561.2,296.7 564.5,291.4C567.2,286.9 570.0,279.2 572.8,272.0C575.7,264.6 578.5,255.9 581.4,247.4C586.2,233.2 591.0,215.1 595.8,203.4C598.2,197.6 600.6,191.9 603.0,189.5C606.3,186.2 609.7,183.4 613.0,182.0C616.0,180.8 619.0,180.3 622.0,179.0C625.3,177.5 628.7,175.5 632.0,174.0C635.0,172.7 637.9,171.4 640.9,170.4C643.8,169.4 646.8,168.7 649.7,168.4C651.6,168.2 653.6,170.6 655.5,172.6C657.5,174.7 659.4,180.5 661.4,185.8C663.4,191.1 665.3,198.5 667.3,207.0C670.4,220.2 673.4,239.2 676.5,254.7C682.0,282.4 687.5,305.7 693.0,335.4C697.7,360.7 702.4,394.2 707.1,420.0C709.1,431.1 711.1,441.5 713.1,450.6C715.6,461.8 718.1,473.5 720.6,481.3C723.0,489.0 725.5,495.9 727.9,500.4C730.4,505.0 732.8,509.3 735.3,511.9C737.2,513.9 739.0,516.6 740.9,516.1C743.3,515.4 745.6,508.9 748.0,507.5C751.0,505.7 754.0,508.5 757.0,506.6C763.1,502.8 769.3,493.6 775.4,485.0C780.3,478.2 785.1,469.2 790.0,461.0C795.6,451.6 801.1,441.9 806.7,432.1C811.6,423.5 816.5,414.1 821.4,405.7C825.3,399.0 829.2,392.3 833.1,386.6C835.6,383.0 838.0,378.9 840.5,377.0C842.2,375.7 843.9,374.5 845.6,374.4C847.2,374.3 848.9,375.5 850.5,376.5C852.1,377.5 853.7,380.2 855.3,383.1C857.6,387.3 860.0,396.8 862.3,406.6C864.4,415.4 866.5,428.8 868.6,441.1C870.7,453.4 872.8,467.1 874.9,480.3C875.8,485.7 876.6,489.4 877.5,497.0C878.5,505.8 879.5,527.0 880.5,540.0C883.0,572.6 885.5,610.2 888.0,630.0C892.3,664.4 896.7,687.2 901.0,710.0C904.5,728.3 907.9,746.4 911.4,761.4C914.6,775.2 917.8,788.8 921.0,798.8C922.0,802.0 923.1,804.9 924.1,807.2C925.6,810.6 927.1,814.6 928.6,816.2C930.1,817.8 931.6,819.2 933.1,819.2C934.6,819.2 936.1,817.7 937.6,816.2C939.1,814.7 940.6,811.0 942.1,807.2C942.9,805.2 943.7,802.0 944.5,798.8C947.3,787.6 950.2,773.8 953.0,761.4C957.0,743.9 961.0,733.6 965.0,710.0C967.8,693.7 970.5,657.2 973.3,630.0C976.0,603.2 978.8,578.7 981.5,547.7C983.2,528.8 984.8,495.0 986.5,480.0C988.5,462.1 990.5,451.2 992.5,439.3C1000.0,394.5 1007.5,355.4 1015.0,311.6C1019.7,284.4 1024.3,255.3 1029.0,228.0C1031.6,212.6 1034.3,194.5 1036.9,182.8C1039.5,171.1 1042.2,161.4 1044.8,154.6C1047.0,148.8 1049.3,142.9 1051.5,139.9C1053.8,136.8 1056.0,133.8 1058.3,132.6C1060.2,131.6 1062.0,130.7 1063.9,130.9C1065.8,131.1 1067.7,132.7 1069.6,134.3C1071.5,135.9 1073.3,139.4 1075.2,142.2C1077.1,145.1 1079.0,147.9 1080.9,153.5C1083.5,161.1 1086.1,188.3 1088.7,199.7C1090.3,206.9 1092.0,210.8 1093.6,217.1C1096.4,228.0 1099.3,240.4 1102.1,251.3C1105.5,264.5 1109.0,277.5 1112.4,288.9C1115.8,300.2 1119.2,312.5 1122.6,319.7C1124.6,323.9 1126.5,327.4 1128.5,329.5C1130.3,331.3 1132.0,333.7 1133.8,333.8C1135.5,333.9 1137.3,332.9 1139.0,332.0C1141.0,330.9 1142.9,329.1 1144.9,326.5C1148.9,321.2 1152.9,310.0 1156.9,300.7C1162.5,287.5 1168.2,272.5 1173.8,258.4C1179.5,244.3 1185.1,227.6 1190.8,216.1C1195.3,207.0 1199.8,197.7 1204.3,194.1C1208.8,190.5 1213.3,187.1 1217.8,186.5C1222.3,185.9 1226.9,185.4 1231.4,186.0C1237.0,186.7 1242.7,188.8 1248.3,190.8C1253.9,192.8 1259.6,196.5 1265.2,200.9C1270.8,205.3 1276.5,213.4 1282.1,221.2C1287.8,229.0 1293.4,240.1 1299.1,248.3C1304.7,256.4 1310.4,265.2 1316.0,270.3C1321.6,275.4 1327.3,279.4 1332.9,282.1C1336.1,283.6 1339.2,285.6 1342.4,285.8C1346.5,286.0 1350.7,284.1 1354.8,282.0C1358.9,279.9 1363.1,276.0 1367.2,273.3C1371.3,270.6 1375.5,267.7 1379.6,265.9C1383.7,264.1 1387.9,262.4 1392.0,261.6C1396.1,260.8 1400.3,260.1 1404.4,260.3C1408.5,260.5 1412.7,261.6 1416.8,262.8C1421.0,264.0 1425.1,266.1 1429.3,267.8C1433.4,269.5 1437.6,271.1 1441.7,273.3C1447.1,276.2 1452.6,281.8 1458.0,285.0C1462.9,287.9 1467.8,291.6 1472.7,292.0C1476.8,292.3 1481.0,292.0 1485.1,291.3C1491.3,290.3 1497.5,288.3 1503.7,287.6C1509.0,287.0 1514.2,287.6 1519.5,287.0C1526.3,286.2 1533.2,284.7 1540.0,283.5C1546.7,282.3 1553.3,281.1 1560.0,280.0C1565.9,279.0 1571.9,278.2 1577.8,277.1C1584.3,275.9 1590.8,274.0 1597.3,273.2C1602.9,272.5 1608.5,272.0 1614.1,271.9C1621.5,271.8 1628.8,272.4 1636.2,273.2C1644.1,274.1 1652.1,276.7 1660.0,279.0C1669.4,281.7 1678.7,286.7 1688.1,288.7C1698.0,290.8 1707.9,292.5 1717.8,292.8"/>
<path class="cv" stroke="#9A93D4" d="M220.3,309.0C280.2,309.0 340.1,309.0 400.0,309.0C433.3,309.0 466.7,309.0 500.0,309.0C510.0,309.0 520.0,309.0 530.1,309.0C534.4,309.0 538.7,308.6 543.1,308.3C547.2,308.0 551.3,305.7 555.4,303.5C558.7,301.8 562.0,296.7 565.3,291.4C568.1,287.0 570.8,279.2 573.6,272.0C576.4,264.6 579.3,255.7 582.1,247.4C587.1,232.9 592.0,214.5 597.0,203.4C599.6,197.6 602.2,192.5 604.8,190.0C608.2,186.7 611.6,184.0 615.0,182.0C618.0,180.3 621.0,179.4 624.0,177.5C627.0,175.6 630.0,173.0 633.0,171.0C636.0,169.0 639.0,166.9 642.0,165.5C644.8,164.2 647.6,163.3 650.4,163.0C652.6,162.8 654.8,165.0 657.0,167.0C659.0,168.8 661.0,174.7 663.0,180.0C665.0,185.3 667.0,193.1 669.0,202.0C672.2,216.1 675.3,238.4 678.5,254.7C684.2,283.8 689.8,305.5 695.5,335.4C700.3,360.9 705.2,394.2 710.0,420.0C712.1,431.0 714.1,441.3 716.2,450.4C718.7,461.5 721.3,473.1 723.8,480.9C726.3,488.5 728.8,495.4 731.3,499.8C733.8,504.4 736.3,508.7 738.9,511.3C740.8,513.1 742.7,515.9 744.6,515.4C747.4,514.6 750.2,510.0 753.0,508.5C756.3,506.7 759.7,506.2 763.0,504.5C767.1,502.4 771.3,499.6 775.4,496.3C780.3,492.5 785.1,486.7 790.0,480.5C795.6,473.4 801.1,463.5 806.7,454.1C811.6,445.8 816.5,436.1 821.4,427.7C825.3,421.0 829.2,414.0 833.1,408.6C835.6,405.2 838.0,401.8 840.5,399.8C842.1,398.5 843.6,397.1 845.2,397.0C847.0,396.8 848.7,398.6 850.5,400.0C852.3,401.4 854.2,404.7 856.0,408.2C858.6,413.2 861.3,423.1 863.9,433.2C866.0,441.2 868.1,452.9 870.2,464.6C871.8,473.5 873.4,484.5 875.0,495.0C876.7,505.9 878.3,515.9 880.0,530.0C883.0,555.3 886.0,606.7 889.0,630.0C892.3,655.8 895.7,674.3 899.0,690.0C902.9,708.5 906.9,727.1 910.8,740.0C913.3,748.2 915.8,755.0 918.3,761.5C919.7,765.2 921.2,769.2 922.6,771.9C924.1,774.8 925.6,777.7 927.1,778.9C928.6,780.1 930.1,781.2 931.6,781.2C933.1,781.2 934.6,780.0 936.1,778.9C937.6,777.8 939.1,774.9 940.6,771.9C941.9,769.3 943.2,765.2 944.5,761.5C946.8,755.0 949.1,748.5 951.4,740.0C954.8,727.5 958.1,708.5 961.5,690.0C964.7,672.6 967.8,652.0 971.0,630.0C974.5,605.7 978.0,577.1 981.5,547.7C984.0,526.7 986.5,501.5 989.0,480.0C990.7,465.7 992.3,449.0 994.0,439.3C1003.3,385.4 1012.5,355.6 1021.8,311.6C1027.6,284.2 1033.3,256.3 1039.1,228.0C1041.7,215.1 1044.4,198.2 1047.0,188.4C1049.6,178.6 1052.3,171.1 1054.9,165.9C1057.2,161.4 1059.4,156.6 1061.7,154.6C1064.3,152.3 1067.0,150.0 1069.6,150.3C1072.2,150.6 1074.9,153.8 1077.5,156.9C1080.1,160.0 1082.8,166.1 1085.4,171.5C1087.6,176.1 1089.9,181.2 1092.1,188.4C1094.9,197.3 1097.6,215.1 1100.4,225.6C1103.8,238.6 1107.3,249.4 1110.7,259.8C1114.1,270.1 1117.5,281.4 1120.9,288.9C1123.8,295.2 1126.6,301.5 1129.5,304.3C1132.9,307.7 1136.3,311.1 1139.7,311.6C1143.7,312.1 1147.7,311.4 1151.7,309.4C1155.5,307.5 1159.2,303.2 1163.0,299.0C1167.3,294.1 1171.7,287.3 1176.0,281.0C1180.9,273.8 1185.9,266.3 1190.8,258.4C1196.4,249.4 1202.1,237.4 1207.7,229.7C1213.3,222.0 1219.0,215.0 1224.6,211.1C1230.2,207.2 1235.9,203.6 1241.5,201.8C1247.2,200.0 1252.8,198.3 1258.5,197.5C1262.4,197.0 1266.4,196.8 1270.3,197.0C1274.8,197.2 1279.3,199.5 1283.8,201.8C1289.4,204.7 1295.1,211.3 1300.7,217.8C1306.4,224.3 1312.0,233.9 1317.7,241.5C1323.3,249.1 1329.0,256.8 1334.6,263.5C1337.2,266.6 1339.8,269.8 1342.4,272.0C1346.5,275.5 1350.7,279.4 1354.8,280.3C1358.9,281.2 1363.1,281.6 1367.2,280.8C1371.3,280.0 1375.5,278.5 1379.6,277.1C1383.7,275.7 1387.9,273.8 1392.0,272.7C1396.1,271.6 1400.3,270.4 1404.4,270.2C1408.5,270.0 1412.7,270.4 1416.8,270.9C1421.0,271.4 1425.1,272.4 1429.3,273.3C1433.4,274.2 1437.6,275.6 1441.7,276.5C1445.8,277.4 1450.0,278.4 1454.1,278.9C1458.2,279.4 1462.4,279.9 1466.5,280.2C1474.8,280.9 1483.0,281.4 1491.3,282.0C1498.5,282.5 1505.8,283.1 1513.0,283.6C1519.5,284.1 1525.9,284.5 1532.4,284.9C1539.9,285.4 1547.5,285.9 1555.0,286.0C1563.3,286.1 1571.7,284.3 1580.0,283.0C1587.9,281.8 1595.9,279.5 1603.8,278.4C1612.4,277.2 1621.1,276.1 1629.7,275.8C1638.3,275.5 1647.0,275.8 1655.6,276.4C1665.4,277.1 1675.2,279.1 1685.0,281.0C1695.9,283.1 1706.9,286.0 1717.8,289.0"/>
<path class="cv" stroke="#7F0000" d="M220.3,309.0C280.2,309.0 340.1,309.0 400.0,309.0C433.3,309.0 466.7,309.0 500.0,309.0C510.3,309.0 520.5,309.0 530.8,309.0C535.1,309.0 539.4,308.6 543.8,308.3C547.9,308.0 552.1,305.6 556.2,303.5C559.5,301.8 562.8,296.7 566.2,291.4C568.9,287.0 571.7,279.2 574.4,272.0C577.2,264.6 580.0,255.5 582.9,247.4C588.0,232.5 593.2,214.4 598.4,203.4C601.1,197.6 603.9,192.7 606.6,190.0C610.1,186.6 613.5,184.2 617.0,181.5C619.7,179.4 622.3,177.6 625.0,175.5C627.7,173.4 630.3,171.0 633.0,168.8C636.0,166.3 639.0,163.3 642.0,161.5C645.3,159.6 648.7,158.3 652.0,158.0C654.3,157.8 656.5,159.7 658.8,161.2C660.9,162.6 662.9,167.4 665.0,172.0C667.0,176.4 669.0,184.3 671.0,193.0C674.5,208.2 678.0,231.7 681.5,250.0C687.1,279.3 692.7,307.2 698.3,335.4C703.9,363.8 709.6,393.0 715.2,420.0C717.4,430.5 719.6,441.1 721.8,450.1C724.4,461.2 727.1,472.7 729.8,480.4C732.5,488.0 735.1,494.7 737.8,499.2C740.5,503.7 743.1,508.0 745.8,510.5C747.9,512.4 749.9,515.2 751.9,514.6C754.8,513.7 757.8,509.2 760.7,507.3C764.5,504.8 768.2,502.3 772.0,500.7C776.0,499.0 780.0,498.0 784.0,496.5C788.0,495.0 792.0,493.6 796.0,491.5C799.3,489.7 802.7,485.4 806.0,481.0C809.0,477.1 812.0,471.1 815.0,465.5C817.1,461.5 819.3,456.9 821.4,452.6C825.3,444.8 829.2,435.6 833.1,429.1C835.6,425.0 838.0,420.8 840.5,418.9C842.0,417.7 843.5,416.6 845.0,416.6C846.7,416.6 848.3,417.8 850.0,419.0C851.5,420.1 853.0,422.9 854.5,425.4C857.1,429.8 859.7,436.1 862.3,444.2C864.4,450.8 866.5,462.3 868.6,472.4C870.1,479.5 871.5,487.6 873.0,495.0C874.7,503.4 876.3,508.9 878.0,519.4C881.8,543.6 885.7,606.4 889.5,630.0C893.2,653.0 897.0,669.6 900.7,681.4C903.2,689.4 905.8,696.0 908.3,702.7C911.1,710.1 913.9,716.9 916.7,724.1C917.9,727.1 919.0,730.8 920.2,733.3C921.7,736.5 923.2,739.5 924.7,740.8C926.2,742.1 927.7,743.3 929.2,743.3C930.7,743.3 932.2,742.2 933.7,740.8C935.2,739.4 936.7,736.0 938.2,733.3C939.7,730.6 941.2,727.6 942.7,724.1C945.3,718.1 947.9,710.3 950.5,702.7C952.7,696.4 954.8,689.9 957.0,681.4C960.4,668.0 963.9,648.5 967.3,630.0C972.0,604.6 976.8,576.0 981.5,547.7C985.1,526.0 988.8,504.2 992.4,480.0C994.3,467.6 996.1,449.1 998.0,439.3C1008.2,385.6 1018.4,353.2 1028.6,311.6C1035.5,283.4 1042.4,253.4 1049.3,228.0C1051.5,219.8 1053.8,211.8 1056.0,205.4C1058.3,198.9 1060.5,192.2 1062.8,188.4C1065.1,184.6 1067.3,180.9 1069.6,179.4C1071.8,177.9 1074.1,176.4 1076.3,176.6C1078.9,176.8 1081.6,179.3 1084.2,181.7C1086.8,184.1 1089.5,189.0 1092.1,194.1C1094.3,198.3 1096.5,204.6 1098.7,209.5C1100.6,213.8 1102.6,218.2 1104.5,222.0C1107.7,228.3 1110.9,233.2 1114.1,239.3C1117.5,245.8 1121.0,254.2 1124.4,259.8C1127.8,265.3 1131.2,270.5 1134.6,273.5C1138.6,277.1 1142.6,280.5 1146.6,282.0C1150.0,283.3 1153.5,284.7 1156.9,285.0C1162.5,285.5 1168.2,285.1 1173.8,284.2C1179.5,283.3 1185.1,280.5 1190.8,277.1C1196.4,273.7 1202.1,266.6 1207.7,261.8C1213.3,257.0 1219.0,252.5 1224.6,248.3C1230.2,244.1 1235.9,240.9 1241.5,236.4C1247.2,231.9 1252.8,225.8 1258.5,221.2C1263.6,217.1 1268.6,212.3 1273.7,210.2C1278.8,208.1 1283.8,206.5 1288.9,206.8C1293.4,207.0 1297.9,209.1 1302.4,211.1C1306.9,213.1 1311.5,217.1 1316.0,221.2C1320.5,225.2 1325.0,230.9 1329.5,236.4C1333.8,241.6 1338.1,249.2 1342.4,253.5C1346.5,257.7 1350.7,261.0 1354.8,263.4C1358.9,265.8 1363.1,268.1 1367.2,269.6C1371.3,271.1 1375.5,272.3 1379.6,273.3C1383.7,274.3 1387.9,274.9 1392.0,275.8C1396.1,276.7 1400.3,277.9 1404.4,278.9C1408.5,279.9 1412.7,281.1 1416.8,282.0C1421.0,282.9 1425.1,283.9 1429.3,284.5C1433.4,285.1 1437.6,285.7 1441.7,285.8C1445.8,285.9 1450.0,285.6 1454.1,285.1C1458.2,284.6 1462.4,283.6 1466.5,282.7C1470.6,281.8 1474.8,280.5 1478.9,279.6C1483.0,278.7 1487.2,277.7 1491.3,277.1C1495.4,276.5 1499.6,276.0 1503.7,275.8C1507.8,275.6 1512.0,275.9 1516.1,276.5C1519.4,277.0 1522.7,278.9 1526.0,279.7C1532.5,281.3 1538.9,282.2 1545.4,283.6C1551.9,285.0 1558.4,286.9 1564.9,288.1C1571.4,289.3 1577.8,290.4 1584.3,290.7C1590.8,291.0 1597.3,290.7 1603.8,290.0C1610.9,289.2 1617.9,287.4 1625.0,286.0C1630.9,284.8 1636.8,283.0 1642.7,282.3C1651.3,281.3 1660.0,280.6 1668.6,280.3C1677.3,280.0 1685.9,279.6 1694.6,279.7C1702.3,279.8 1710.1,280.4 1717.8,281.0"/>
<path class="cv" stroke="#FB6501" d="M220.3,309.0C280.2,309.0 340.1,309.0 400.0,309.0C433.3,309.0 466.7,309.0 500.0,309.0C510.5,309.0 521.0,309.0 531.5,309.0C535.8,309.0 540.2,308.6 544.5,308.3C548.7,308.0 552.8,305.6 557.0,303.5C560.3,301.8 563.7,296.7 567.0,291.4C569.7,287.0 572.5,279.2 575.2,272.0C578.0,264.6 580.8,255.7 583.6,247.4C586.1,240.1 588.5,232.1 591.0,225.4C593.9,217.4 596.9,209.2 599.8,203.4C602.7,197.6 605.7,192.2 608.6,188.7C612.5,184.1 616.4,180.2 620.3,177.0C624.2,173.8 628.1,171.8 632.0,168.6C635.0,166.1 637.9,162.6 640.9,160.3C643.3,158.4 645.8,156.4 648.2,155.5C649.9,154.9 651.6,154.6 653.3,154.6C655.5,154.6 657.8,156.2 660.0,157.6C661.9,158.8 663.9,162.5 665.8,166.0C667.8,169.6 669.7,175.8 671.7,181.8C673.6,187.7 675.6,195.1 677.5,203.4C680.0,214.0 682.4,227.7 684.9,240.0C687.3,252.1 689.8,264.3 692.2,276.7C693.7,284.3 695.2,292.0 696.7,300.0C698.9,311.5 701.0,324.4 703.2,335.4C709.2,365.6 715.1,392.7 721.1,420.0C723.3,430.1 725.5,440.5 727.7,449.3C730.4,460.1 733.1,471.2 735.8,478.7C738.5,486.1 741.1,492.7 743.8,497.0C746.5,501.4 749.2,505.7 751.9,508.0C753.9,509.8 756.0,512.2 758.0,512.0C761.3,511.7 764.7,510.2 768.0,508.8C771.7,507.2 775.3,504.6 779.0,503.5C782.7,502.4 786.3,502.6 790.0,501.8C793.3,501.1 796.7,500.0 800.0,498.5C802.7,497.3 805.3,494.6 808.0,492.0C810.7,489.4 813.3,485.9 816.0,482.0C819.3,477.2 822.5,470.7 825.8,464.3C829.2,457.6 832.7,447.8 836.1,442.3C837.7,439.7 839.4,437.4 841.0,436.3C842.3,435.4 843.7,434.6 845.0,434.6C846.5,434.6 848.0,435.9 849.5,437.0C851.2,438.3 852.8,441.3 854.5,444.2C856.6,447.8 858.7,453.6 860.8,459.9C862.9,466.1 864.9,475.5 867.0,485.0C869.1,494.7 871.2,506.8 873.3,519.4C875.9,534.8 878.4,553.9 881.0,570.0C884.3,591.0 887.7,616.1 891.0,630.0C896.2,651.8 901.5,664.7 906.7,681.4C909.0,688.6 911.2,696.0 913.5,702.8C914.6,706.0 915.6,709.8 916.7,712.0C918.2,715.0 919.7,717.7 921.2,718.8C922.7,719.9 924.2,721.1 925.7,721.1C927.2,721.1 928.7,720.0 930.2,718.8C931.7,717.6 933.2,714.6 934.7,712.0C936.2,709.5 937.6,706.3 939.1,702.8C941.6,696.8 944.1,689.1 946.6,681.4C951.5,666.4 956.4,651.3 961.3,630.0C966.2,608.7 971.1,575.4 976.0,547.7C980.0,525.3 983.9,499.9 987.9,480.0C990.9,464.8 994.0,452.0 997.0,439.3C998.4,433.3 999.9,427.7 1001.3,422.2C1003.6,413.4 1005.8,404.6 1008.1,396.6C1011.5,384.5 1015.0,372.9 1018.4,362.4C1021.8,352.0 1025.2,343.2 1028.6,333.3C1032.0,323.3 1035.5,313.4 1038.9,302.6C1042.3,291.9 1045.7,279.2 1049.1,268.4C1052.5,257.5 1056.0,246.6 1059.4,237.6C1062.8,228.6 1066.3,220.0 1069.7,213.7C1071.5,210.5 1073.2,207.1 1075.0,205.5C1076.6,204.0 1078.3,202.4 1079.9,202.4C1081.8,202.4 1083.6,203.1 1085.5,204.0C1087.6,205.0 1089.8,206.6 1091.9,208.5C1095.9,212.0 1099.8,217.3 1103.8,222.2C1107.2,226.4 1110.7,232.1 1114.1,235.9C1117.3,239.5 1120.6,243.3 1123.8,244.8C1129.2,247.3 1134.6,248.0 1140.0,250.0C1145.6,252.1 1151.3,254.1 1156.9,256.8C1162.5,259.5 1168.2,264.1 1173.8,266.9C1179.5,269.7 1185.1,272.7 1190.8,273.7C1196.4,274.7 1202.1,275.1 1207.7,274.5C1213.3,273.9 1219.0,272.0 1224.6,270.3C1230.2,268.6 1235.9,265.7 1241.5,262.7C1247.2,259.7 1252.8,255.1 1258.5,250.0C1263.0,245.9 1267.5,239.3 1272.0,234.8C1276.5,230.3 1281.0,225.8 1285.5,222.9C1288.3,221.1 1291.2,219.1 1294.0,218.5C1296.8,217.9 1299.6,217.3 1302.4,217.3C1305.3,217.3 1308.1,217.6 1311.0,218.0C1313.8,218.4 1316.6,219.4 1319.4,220.4C1325.0,222.3 1330.7,225.0 1336.3,228.0C1342.5,231.3 1348.6,236.1 1354.8,239.9C1363.1,245.0 1371.3,249.8 1379.6,254.7C1387.9,259.6 1396.1,264.4 1404.4,269.6C1410.6,273.5 1416.9,278.8 1423.1,282.0C1429.3,285.2 1435.5,288.3 1441.7,289.5C1447.9,290.7 1454.1,291.9 1460.3,291.3C1466.5,290.7 1472.7,288.8 1478.9,287.0C1485.1,285.2 1491.3,282.6 1497.5,280.8C1502.7,279.3 1507.8,277.7 1513.0,277.0C1517.3,276.4 1521.7,275.7 1526.0,275.8C1532.5,276.0 1538.9,276.8 1545.4,277.7C1551.9,278.6 1558.4,280.0 1564.9,281.0C1573.5,282.4 1582.2,284.0 1590.8,284.9C1599.4,285.8 1608.1,286.4 1616.7,286.8C1625.4,287.2 1634.0,287.7 1642.7,287.4C1651.3,287.1 1660.0,286.1 1668.6,285.5C1677.3,284.9 1685.9,284.0 1694.6,283.6C1702.3,283.3 1710.1,283.4 1717.8,283.6"/>
</g>
<g stroke="#000" stroke-width="4.8" fill="none">
<line x1="369.5" y1="1172.5" x2="369.5" y2="1163.2"/>
<line x1="519.4" y1="1172.5" x2="519.4" y2="1153.3"/>
<line x1="669.3" y1="1172.5" x2="669.3" y2="1163.2"/>
<line x1="819.2" y1="1172.5" x2="819.2" y2="1153.3"/>
<line x1="969.1" y1="1172.5" x2="969.1" y2="1163.2"/>
<line x1="1119.0" y1="1172.5" x2="1119.0" y2="1153.3"/>
<line x1="1269.0" y1="1172.5" x2="1269.0" y2="1163.2"/>
<line x1="1418.9" y1="1172.5" x2="1418.9" y2="1153.3"/>
<line x1="1568.8" y1="1172.5" x2="1568.8" y2="1163.2"/>
<line x1="219.55" y1="93.1" x2="238.85000000000002" y2="93.1"/>
<line x1="219.55" y1="201.1" x2="229.75" y2="201.1"/>
<line x1="219.55" y1="309.0" x2="238.85000000000002" y2="309.0"/>
<line x1="219.55" y1="416.9" x2="229.75" y2="416.9"/>
<line x1="219.55" y1="524.9" x2="238.85000000000002" y2="524.9"/>
<line x1="219.55" y1="632.8" x2="229.75" y2="632.8"/>
<line x1="219.55" y1="740.8" x2="238.85000000000002" y2="740.8"/>
<line x1="219.55" y1="848.7" x2="229.75" y2="848.7"/>
<line x1="219.55" y1="956.6" x2="238.85000000000002" y2="956.6"/>
<line x1="219.55" y1="1064.6" x2="229.75" y2="1064.6"/>
</g>
<rect x="219.55" y="50.5" width="1499.15" height="1122.0" fill="none" stroke="#000" stroke-width="4.8"/>
<text class="tk" x="219.6" y="1243" text-anchor="middle">0</text>
<text class="tk" x="519.4" y="1243" text-anchor="middle">2</text>
<text class="tk" x="819.2" y="1243" text-anchor="middle">4</text>
<text class="tk" x="1119.0" y="1243" text-anchor="middle">6</text>
<text class="tk" x="1418.9" y="1243" text-anchor="middle">8</text>
<text class="tk" x="1718.7" y="1243" text-anchor="middle">10</text>
<text class="tk" x="200" y="111.7" text-anchor="end">5</text>
<text class="tk" x="200" y="327.6" text-anchor="end">0</text>
<text class="tk" x="200" y="543.5" text-anchor="end">−5</text>
<text class="tk" x="200" y="759.4" text-anchor="end">−10</text>
<text class="tk" x="200" y="975.2" text-anchor="end">−15</text>
<text class="tk" x="200" y="1191.1" text-anchor="end">−20</text>
<text class="ttl" x="969.4" y="1331.4" text-anchor="middle">Time (μs)</text>
<text class="ttly" transform="translate(83.3,610.5) rotate(-90)" text-anchor="middle">Y displacement (nm)</text>
<g fill="none" stroke="#70AD47">
<path d="M966.2,70.8 H1122" stroke-width="3.9" stroke-dasharray="13.1 4.74"/>
<path d="M966.5,74 V313.9" stroke-width="4.7" stroke-dasharray="13.1 4.74"/>
<path d="M1123.8,73.2 V313.9" stroke-width="4.1" stroke-dasharray="13.1 4.74"/>
<path d="M964.2,311.8 H1125.8" stroke-width="4.4" stroke-dasharray="13.1 4.74" stroke-dashoffset="5.1"/>
<path d="M862.1,633.5 H995 M860.2,1122.4 H995" stroke-width="4.9" stroke-dasharray="12.7 4.93"/>
<path d="M862,637 V1120 M993.2,637 V1120" stroke-width="3.6" stroke-dasharray="13.55 4.5"/>
<path d="M1124,125 H1216 M862,878.3 H787" stroke-width="4.5"/>
</g>
<path d="M1231.3,125 L1214.2,116.1 V133.9 Z M770.9,878.3 L788.7,869.3 V887.3 Z" fill="#70AD47"/>
<text class="an" x="1233" y="144.1">DRW</text>
<text class="an" x="631.3" y="899.5">TRW</text>
<rect x="1376.5" y="441.5" width="309" height="693.5" fill="#fff" stroke="#000" stroke-width="1.2"/>
<line x1="1383.8" y1="481.2" x2="1496.2" y2="481.2" stroke="#515151" stroke-width="7.2" stroke-linecap="round"/>
<text class="lg" x="1511" y="498.6">0.5mm</text>
<line x1="1383.8" y1="549.9" x2="1496.2" y2="549.9" stroke="#F14040" stroke-width="7.2" stroke-linecap="round"/>
<text class="lg" x="1511" y="567.2">0.6mm</text>
<line x1="1383.8" y1="618.5" x2="1496.2" y2="618.5" stroke="#1A6FDF" stroke-width="7.2" stroke-linecap="round"/>
<text class="lg" x="1511" y="635.9">0.7mm</text>
<line x1="1383.8" y1="687.1" x2="1496.2" y2="687.1" stroke="#37AD6B" stroke-width="7.2" stroke-linecap="round"/>
<text class="lg" x="1511" y="704.5">0.8mm</text>
<line x1="1383.8" y1="755.8" x2="1496.2" y2="755.8" stroke="#B177DE" stroke-width="7.2" stroke-linecap="round"/>
<text class="lg" x="1511" y="773.2">0.9mm</text>
<line x1="1383.8" y1="824.5" x2="1496.2" y2="824.5" stroke="#FEC93B" stroke-width="7.2" stroke-linecap="round"/>
<text class="lg" x="1511" y="841.9">1.0mm</text>
<line x1="1383.8" y1="893.1" x2="1496.2" y2="893.1" stroke="#0CCBCB" stroke-width="7.2" stroke-linecap="round"/>
<text class="lg" x="1511" y="910.5">1.1mm</text>
<line x1="1383.8" y1="961.8" x2="1496.2" y2="961.8" stroke="#9A93D4" stroke-width="7.2" stroke-linecap="round"/>
<text class="lg" x="1511" y="979.1">1.2mm</text>
<line x1="1383.8" y1="1030.4" x2="1496.2" y2="1030.4" stroke="#7F0000" stroke-width="7.2" stroke-linecap="round"/>
<text class="lg" x="1511" y="1047.8">1.3mm</text>
<line x1="1383.8" y1="1099.0" x2="1496.2" y2="1099.0" stroke="#FB6501" stroke-width="7.2" stroke-linecap="round"/>
<text class="lg" x="1511" y="1116.5">1.4mm</text>
</svg></body></html>
